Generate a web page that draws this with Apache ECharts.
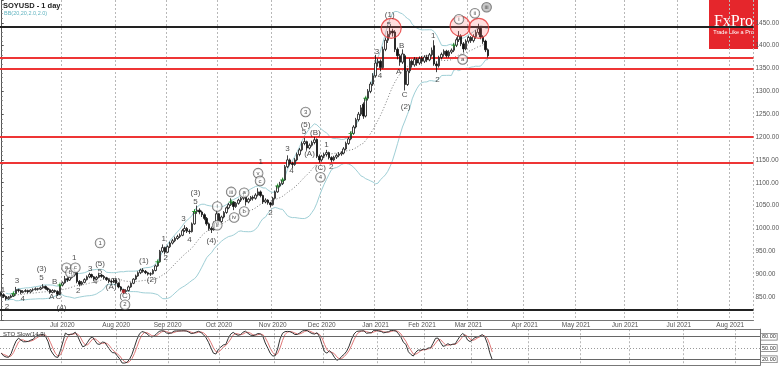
<!DOCTYPE html>
<html><head><meta charset="utf-8">
<script src="https://cdn.jsdelivr.net/npm/echarts@6/dist/echarts.min.js"></script>
<style>html,body{margin:0;padding:0;background:#fff}#c{width:782px;height:366px}</style>
</head><body><div id="c"></div>
<script>
const startDate = '2020-05-27';
const totalSlots = 308;
const holidays = ['2020-07-03','2020-09-07','2020-11-26','2020-12-25','2021-01-01','2021-01-18','2021-02-15','2021-04-02','2021-05-31','2021-07-05'];
const monthNames = ['Jan','Feb','Mar','Apr','May','Jun','Jul','Aug','Sep','Oct','Nov','Dec'];

const opens = [858,855,851,846,849,852,857,866,864,860,862,864,861,865,866,868,867,870,873,869,866,860,864,862,856,
876,881,890,887,893,898,903,884,878,882,888,894,899,894,889,893,898,895,892,888,884,883,887,880,872,866,
862,864,872,880,889,896,903,909,906,903,900,901,908,918,927,950,958,948,960,968,973,978,982,985,995,1000,994,993,1010,1037,
1040,1036,1030,1022,1010,1000,997,1012,1032,1015,1025,1035,1045,1052,1058,1048,1055,1062,1066,1070,
1058,1064,1068,1066,1073,1080,1072,1058,1062,1056,1052,1066,1080,1093,1098,1106,1135,1150,1142,1140,
1150,1162,1172,1186,1190,1176,1182,1188,1195,1158,1150,1158,1162,1166,1155,1150,1156,1160,1163,1165,
1174,1186,1196,1208,1222,1238,1250,1272,1246,1285,1300,1316,1334,1362,1366,1352,1392,1412,1425,1432,
1430,1392,1378,1364,1378,1315,1345,1366,1358,1370,1362,1372,1366,1375,1369,1380,1400,1360,1356,1374,
1381,1388,1378,1386,1390,1401,1413,1421,1404,1393,1410,1418,1411,1420,1429,1438,1419,1410,1391];
const closes = [855,851,846,849,852,857,866,864,860,862,864,861,865,866,868,867,870,873,869,866,860,864,862,856,876,
881,890,887,893,898,903,884,878,882,888,894,899,894,889,893,898,895,892,888,884,883,887,880,872,866,862,
864,872,880,889,896,903,909,906,903,900,901,908,918,927,950,958,948,960,968,973,978,982,985,995,1000,994,993,1010,1037,1040,
1036,1030,1022,1010,1000,997,1012,1032,1015,1025,1035,1045,1052,1058,1048,1055,1062,1066,1070,1058,
1064,1068,1066,1073,1080,1072,1058,1062,1056,1052,1066,1080,1093,1098,1106,1135,1150,1142,1140,1150,
1162,1172,1186,1190,1176,1182,1188,1194,1158,1150,1158,1162,1166,1155,1150,1156,1160,1163,1165,1174,
1186,1196,1208,1222,1238,1250,1264,1246,1285,1300,1316,1334,1362,1366,1352,1392,1412,1425,1432,1428,
1392,1378,1364,1382,1315,1345,1366,1358,1370,1362,1372,1366,1375,1369,1380,1390,1360,1356,1374,1381,
1388,1378,1386,1390,1401,1413,1421,1404,1393,1410,1418,1411,1420,1429,1437,1419,1409,1391,1378];
const lows = [851,848,842,844,847,850,855,860,856,858,860,858,859,862,864,864,865,868,866,863,857,858,859,852,854,
873,879,883,885,890,895,880,873,875,880,886,891,891,885,887,891,892,889,885,880,880,881,877,869,862,857,
859,862,870,878,887,894,900,903,900,897,896,899,906,916,925,947,943,946,957,965,970,975,979,983,992,990,988,991,1008,1032,
1031,1025,1018,1006,995,990,995,1010,1008,1012,1022,1032,1042,1049,1040,1045,1052,1058,1062,1050,
1055,1060,1061,1063,1070,1068,1054,1055,1052,1046,1050,1064,1078,1090,1095,1104,1132,1138,1132,1137,
1147,1158,1169,1182,1170,1173,1179,1184,1154,1144,1146,1154,1158,1151,1145,1147,1152,1156,1159,1162,
1171,1183,1193,1205,1219,1234,1246,1240,1243,1280,1296,1312,1330,1354,1344,1350,1388,1406,1418,1420,
1386,1370,1356,1360,1302,1312,1340,1352,1354,1356,1358,1360,1362,1364,1366,1376,1356,1342,1352,1370,
1376,1374,1374,1382,1386,1397,1408,1399,1385,1390,1405,1406,1407,1415,1424,1414,1404,1386,1374];
const highs = [862,858,853,852,855,859,872,868,866,865,867,866,867,869,871,870,873,878,875,871,868,867,866,864,878,
884,896,893,897,902,907,904,887,885,891,897,903,901,896,896,902,900,898,894,891,887,890,889,882,874,868,
867,875,882,891,899,906,912,913,909,905,904,911,921,930,953,965,960,963,971,977,982,986,989,999,1007,1003,998,1013,1041,1050,
1044,1039,1033,1025,1013,1004,1015,1040,1034,1028,1038,1048,1056,1066,1060,1058,1065,1069,1076,1072,
1067,1071,1072,1077,1088,1083,1074,1066,1064,1058,1069,1083,1096,1102,1110,1139,1160,1153,1146,1154,
1166,1176,1190,1198,1192,1186,1192,1200,1197,1162,1161,1166,1172,1168,1158,1159,1164,1167,1169,1178,
1190,1200,1212,1226,1242,1255,1270,1276,1288,1305,1321,1340,1380,1372,1370,1398,1418,1432,1442,1437,
1434,1396,1382,1392,1382,1350,1372,1370,1375,1374,1376,1377,1379,1380,1384,1396,1412,1366,1378,1385,
1392,1391,1390,1394,1405,1418,1432,1425,1408,1414,1422,1421,1425,1434,1448,1441,1423,1413,1394];

const buySignals = [5,24,64,79,94,113,115,143,149,185];
const sellSignals = [50];
const waveLabels = [
 [0.7,866,'1',0],[2.4,829,'2',0],[6.4,885,'3',0],[8.8,846,'4',0],[16.5,911,'(3)',0],[16.5,892,'5',0],
 [20.6,851,'A',0],[21.8,883,'B',0],[23.4,851,'C',0],[24.6,827,'(4)',0],
 [26.7,914,'a',1],[28.3,903,'b',1],[30.3,914,'c',1],[29.8,935,'1',0],[31.5,864,'2',0],
 [36.4,911,'3',0],[38.4,883,'4',0],[40.4,968,'1',1],[40.4,922,'(5)',0],[40.4,905,'5',0],
 [44.9,872,'(A)',0],[46.6,885,'(B)',0],[50.6,853,'(C)',0],[50.6,833,'2',1],
 [58.3,929,'(1)',0],[61.5,888,'(2)',0],[66.4,978,'1',0],[67.2,935,'2',0],
 [74.5,1022,'3',0],[76.9,976,'4',0],[79.4,1078,'(3)',0],[79.4,1058,'5',0],[85.9,974,'(4)',0],
 [88.3,1048,'i',1],[88.3,1007,'ii',1],[94,1080,'iii',1],[95.2,1024,'iv',1],[99.3,1078,'a',1],[99.3,1037,'b',1],
 [105,1121,'v',1],[105.8,1104,'c',1],[106.1,1145,'1',0],[110.1,1034,'2',0],
 [117,1175,'3',0],[118.6,1127,'4',0],[124.4,1255,'3',1],[124.4,1227,'(5)',0],[123.8,1212,'5',0],
 [126,1164,'(A)',0],[128.4,1210,'(B)',0],[130.5,1132,'(C)',0],[130.5,1112,'4',1],
 [132.9,1184,'1',0],[134.9,1134,'2',0],
 [153.6,1387,'3',0],[154.8,1333,'4',0],[158.5,1445,'5',0],[158.8,1467,'(1)',0],
 [162.5,1342,'A',0],[163.7,1400,'B',0],[164.9,1292,'C',0],[165.3,1266,'(2)',0],
 [176.6,1421,'1',0],[178.3,1326,'2',0],
 [187.1,1458,'i',1],[188.6,1370,'a',1],[193.6,1471,'ii',1],[198.4,1484,'iii',2]
];
const redCircles = [[159.4,1438],[187.6,1443],[195.2,1438]];
const supportLevels = [1374,1350,1200,1144];
const frameLevels = [1441,823];
const priceTags = [1417.25,1394.75];
const stochLevels = [80,50,20];
const bbPeriod = 20, bbDev = 2, stoPeriod = 14, stoSlow = 3;

function buildDates(){
  const out=[]; const d=new Date(startDate+'T00:00:00Z');
  while(out.length<totalSlots){
    const wd=d.getUTCDay(); const s=d.toISOString().slice(0,10);
    if(wd!==0&&wd!==6&&!holidays.includes(s)) out.push(s);
    d.setUTCDate(d.getUTCDate()+1);
  }
  return out;
}
const dates = buildDates();
const monthStart = dates.map((s,i)=> i>0 && s.slice(0,7)!==dates[i-1].slice(0,7));
const showMonth = (i)=> monthStart[i] && i>10;

const bbMid=[], bbUp=[], bbLo=[];
closes.forEach((c,i)=>{
  if(i<2){bbMid.push('-');bbUp.push('-');bbLo.push('-');return;}
  const w=closes.slice(Math.max(0,i-bbPeriod+1),i+1);
  const m=w.reduce((a,b)=>a+b,0)/w.length;
  const sd=Math.sqrt(w.reduce((a,b)=>a+(b-m)*(b-m),0)/w.length);
  bbMid.push(m); bbUp.push(m+bbDev*sd); bbLo.push(m-bbDev*sd);
});
const fastK = closes.map((c,i)=>{
  const s=Math.max(0,i-stoPeriod+1);
  const hh=Math.max(...highs.slice(s,i+1)), ll=Math.min(...lows.slice(s,i+1));
  return hh===ll?50:(c-ll)/(hh-ll)*100;
});
const avg=(arr,i,n)=>{const w=arr.slice(Math.max(0,i-n+1),i+1);return w.reduce((a,b)=>a+b,0)/w.length;};
const slowK = fastK.map((v,i)=>avg(fastK,i,stoSlow));
const slowD = slowK.map((v,i)=>avg(slowK,i,stoSlow));

const candleData = closes.map((c,i)=>[opens[i],c,lows[i],highs[i]]);
const FONT='Liberation Sans';
const chart = echarts.init(document.getElementById('c'));
const catAxisCommon = {
  type:'category', data:dates, boundaryGap:true,
  axisTick:{show:false},
  splitLine:{show:true, interval:(i)=>showMonth(i), lineStyle:{color:'#b8b8b8', type:[2,2], width:1}}
};
const labelSeries = (kind)=>({
  type:'scatter', xAxisIndex:1, yAxisIndex:0, symbol:'circle', symbolSize:1, itemStyle:{color:'rgba(0,0,0,0)'}, z:20,
  data: waveLabels.filter(l=>l[3]===kind).map(l=>[l[0],l[1],l[2]]),
  label:{show:true, position:'inside', formatter:p=>p.data[2], fontFamily:FONT, color:'#222',
    fontSize: kind===0?8:6,
    ...(kind>0?{width:9,height:9,lineHeight:9,align:'center',verticalAlign:'middle',borderColor:'#555',borderWidth:0.8,borderRadius:5,backgroundColor: kind===2?'#bdbdbd':'rgba(255,255,255,0.85)'}:{})
  }
});

chart.setOption({
  animation:false,
  backgroundColor:'#fff',
  grid:[
    {left:0, width:760, top:-3.2, height:323},
    {left:0, width:760, top:329.2, height:36.1}
  ],
  xAxis:[
    {...catAxisCommon, gridIndex:0,
      axisLine:{show:true, lineStyle:{color:'#777', width:1}},
      axisLabel:{show:true, interval:(i)=>showMonth(i), margin:2, fontSize:6.5, color:'#555', fontFamily:FONT,
        formatter:(v)=>monthNames[+v.slice(5,7)-1]+' '+v.slice(0,4)}},
    {type:'value', gridIndex:0, min:-0.5, max:totalSlots-0.5, show:false},
    {...catAxisCommon, gridIndex:1, axisLine:{show:true, lineStyle:{color:'#777'}}, axisLabel:{show:false}}
  ],
  yAxis:[
    {type:'value', gridIndex:0, position:'right', min:800, max:1500, interval:50,
      axisLine:{show:true, lineStyle:{color:'#555'}},
      axisTick:{show:true, length:2.5, lineStyle:{color:'#555'}},
      minorTick:{show:true, splitNumber:5, length:1.5, lineStyle:{color:'#777'}},
      splitLine:{show:false},
      axisLabel:{show:true, showMinLabel:false, showMaxLabel:false, margin:2, fontSize:6.5, color:'#555', fontFamily:FONT, formatter:v=>v.toFixed(2)}},
    {type:'value', gridIndex:1, position:'right', min:4, max:100,
      axisLine:{show:true, lineStyle:{color:'#777'}}, axisTick:{show:false}, axisLabel:{show:false}, splitLine:{show:false}}
  ],
  graphic:[
    {type:'text', left:3, top:2, style:{text:'SOYUSD - 1 day', font:'bold 7.5px '+FONT, fill:'#222'}},
    {type:'text', left:4, top:10, style:{text:'BB(20,20,2.0,2.0)', font:'5.5px '+FONT, fill:'#5fb3bf'}},
    {type:'text', left:3, top:331, style:{text:'STO Slow(14,3)', font:'6px '+FONT, fill:'#333'}, z:50},
    {type:'group', left:709, top:0, z:100, children:[
      {type:'rect', shape:{x:0,y:0,width:49,height:49}, style:{fill:'#e5262c'}},
      {type:'text', style:{x:24.5, y:22, text:'FxPro', font:'16px "Liberation Serif"', fill:'#fff', align:'center', verticalAlign:'middle'}},
      {type:'text', style:{x:24.5, y:32, text:'Trade Like a Pro', font:'5.5px '+FONT, fill:'#fff', align:'center', verticalAlign:'middle'}}
    ]}
  ],
  series:[
    {type:'line', name:'BB upper', xAxisIndex:0, yAxisIndex:0, data:bbUp, showSymbol:false, lineStyle:{color:'#9fcfd6', width:1}, z:2},
    {type:'line', name:'BB lower', xAxisIndex:0, yAxisIndex:0, data:bbLo, showSymbol:false, lineStyle:{color:'#9fcfd6', width:1}, z:2},
    {type:'line', name:'BB mid', xAxisIndex:0, yAxisIndex:0, data:bbMid, showSymbol:false, lineStyle:{color:'#777', width:1, type:[1,2]}, z:2},
    {type:'candlestick', name:'SOYUSD', xAxisIndex:0, yAxisIndex:0, data:candleData, barWidth:2, z:5,
      itemStyle:{color:'#ffffff', color0:'#111', borderColor:'#111', borderColor0:'#111', borderWidth:0.8},
      markLine:{symbol:'none', silent:true, animation:false,
        data:[
          ...frameLevels.map(v=>({yAxis:v, lineStyle:{color:'#222', width:2, type:'solid'}, label:{show:false}})),
          ...supportLevels.map(v=>({yAxis:v, lineStyle:{color:'#ee3535', width:2.2, type:'solid'}, label:{show:false}})),
          ...priceTags.map((v,k)=>({yAxis:v, lineStyle:{opacity:0}, label:{show:true, position:'end', distance:1, formatter:()=>v.toFixed(2),
            fontSize:6, fontFamily:FONT, color:'#333', padding:[1,1,0,1], backgroundColor:k===0?'#d6e9f2':'#f4f4f4', borderColor:k===0?'#8ab':'#e55', borderWidth:0.8}}))
        ]}},
    {type:'scatter', name:'buy', xAxisIndex:1, yAxisIndex:0, z:8, symbol:'path://M2,0L3,0L3,2L5,2L5,3L3,3L3,5L2,5L2,3L0,3L0,2L2,2Z', symbolSize:5,
      itemStyle:{color:'#1f9e2a'}, data:buySignals.map(i=>[i,closes[i]])},
    {type:'scatter', name:'sell', xAxisIndex:1, yAxisIndex:0, z:8, symbol:'rect', symbolSize:3.5,
      itemStyle:{color:'#c0262c'}, data:sellSignals.map(i=>[i,closes[i]])},
    {type:'scatter', name:'circles', xAxisIndex:1, yAxisIndex:0, z:15, symbol:'circle', symbolSize:20,
      itemStyle:{color:'rgba(255,110,110,0.28)', borderColor:'#e53333', borderWidth:1.2}, data:redCircles},
    labelSeries(0), labelSeries(1), labelSeries(2),
    {type:'line', name:'%K', xAxisIndex:2, yAxisIndex:1, data:slowK, showSymbol:false, lineStyle:{color:'#333', width:1}, z:4,
      markLine:{symbol:'none', silent:true, animation:false,
        data:[
          {yAxis:100, lineStyle:{color:'#777', width:1, type:'solid'}, label:{show:false}},
          ...stochLevels.map(v=>({yAxis:v, lineStyle:{color: v===50?'#999':'#666', width:1, type: v===50?[1,2]:'solid'},
            label:{show:true, position:'end', distance:1, formatter:()=>v.toFixed(2), fontSize:5.5, fontFamily:FONT, color:'#333',
              padding:[0,1], backgroundColor:'#fff', borderColor:'#777', borderWidth:0.8}}))
        ]}},
    {type:'line', name:'%D', xAxisIndex:2, yAxisIndex:1, data:slowD, showSymbol:false, lineStyle:{color:'#e07878', width:1}, z:3}
  ]
});
</script></body></html>
